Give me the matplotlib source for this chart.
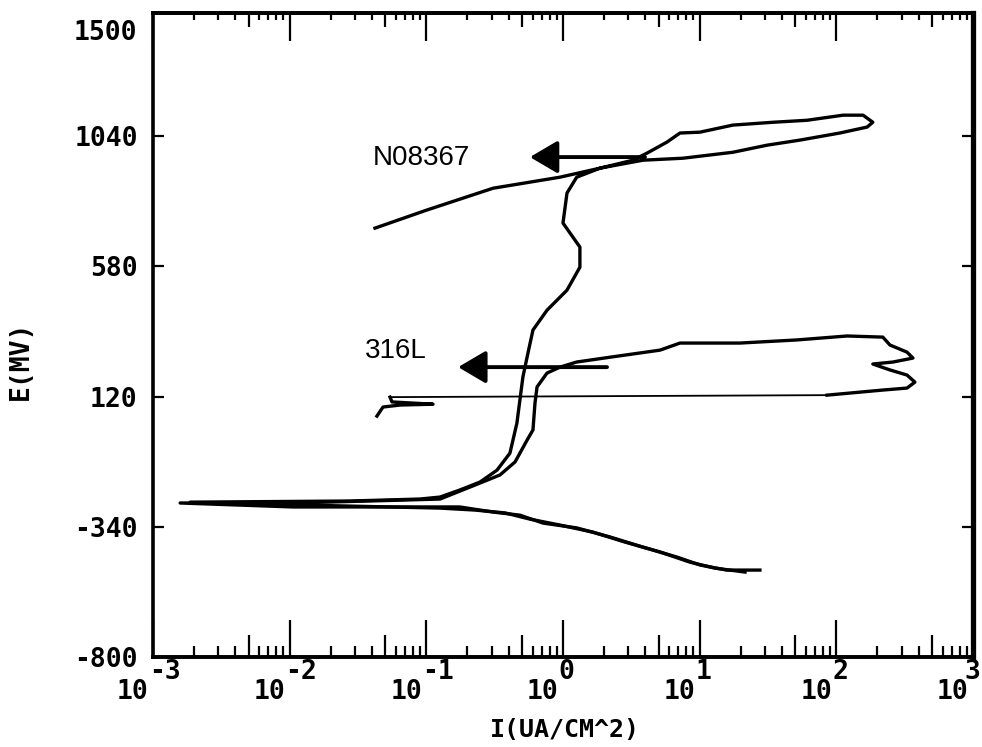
import numpy as np
import matplotlib.pyplot as plt
from matplotlib.ticker import LogLocator, NullFormatter, FixedLocator

# polarization scans, current in uA/cm^2 and potential in mV
n08367_i = [21.5, 12.9, 8.49, 5.13, 2.84, 1.66, 0.951, 0.573, 0.377, 0.227, 0.126, 0.0119, 0.00187, 0.0276, 0.090, 0.126,
            0.176, 0.247, 0.329, 0.409, 0.460, 0.484, 0.509, 0.546, 0.603, 0.764, 1.07, 1.33, 1.33, 1.00, 1.07, 1.26,
            1.87, 3.25, 4.12, 5.77, 7.18, 10.05, 17.5, 34.4, 61.0, 112, 157, 185,
            168, 106, 54.2, 31.1, 17.5, 7.55, 3.85, 1.87, 0.951, 0.308, 0.101, 0.0421]
n08367_e = [-500, -486, -465, -429, -394, -359, -334, -313, -291, -281, -274, -263, -253, -249, -242, -235,
            -210, -182, -140, -80, 26, 108, 189, 259, 355, 425, 496, 577, 648, 733, 839, 895,
            927, 955, 980, 1019, 1051, 1054, 1079, 1089, 1096, 1114, 1114, 1089,
            1072, 1051, 1026, 1008, 983, 962, 955, 927, 895, 856, 779, 715]

s316l_i = [27.6, 15.8, 10.05, 6.82, 3.85, 2.21, 1.26, 0.715, 0.484, 0.308, 0.176, 0.0758, 0.01058, 0.00158, 0.01058, 0.0641, 0.126,
           0.208, 0.346, 0.446, 0.546, 0.603, 0.624, 0.646, 0.764, 0.951, 1.26, 2.21, 5.13, 7.18, 19.7, 51.5, 120, 219,
           247, 329, 364, 260, 185, 247, 329, 376, 329, 219, 85.5,
           0.0542, 0.0561, 0.112, 0.0641, 0.0482, 0.0435]
s316l_e = [-493, -493, -475, -447, -412, -376, -344, -327, -299, -288, -270, -270, -270, -256, -256, -246, -242,
           -200, -157, -111, -34, 2, 97, 154, 203, 224, 242, 259, 284, 309, 309, 320, 334, 330,
           302, 277, 256, 242, 235, 214, 196, 171, 150, 143, 125,
           118, 101, 93, 90, 83, 51]
jump = 44  # reverse scan jumps back here (thin line)

yticks = [-800, -340, 120, 580, 1040]
decades = [-3, -2, -1, 0, 1, 2, 3]

mono = {'family': 'DejaVu Sans Mono', 'weight': 'bold', 'size': 19}

fig = plt.figure(figsize=(9.82, 7.47), dpi=100)
ax = fig.add_axes([0.1558, 0.1205, 0.835, 0.8621])

ax.plot(n08367_i, n08367_e, color='black', lw=2.4, solid_joinstyle='round')
ax.plot(s316l_i[:jump + 1], s316l_e[:jump + 1], color='black', lw=2.4, solid_joinstyle='round')
ax.plot(s316l_i[jump:jump + 2], s316l_e[jump:jump + 2], color='black', lw=1.3)
ax.plot(s316l_i[jump + 1:], s316l_e[jump + 1:], color='black', lw=2.4, solid_joinstyle='round')

# labels with arrows
arrow = dict(arrowstyle='-|>,head_length=0.85,head_width=0.5', color='black', lw=2.8,
             mutation_scale=20, shrinkA=0, shrinkB=0)
ax.annotate('', xy=(0.573, 966), xytext=(3.98, 966), arrowprops=arrow)
ax.annotate('', xy=(0.171, 224), xytext=(2.10, 224), arrowprops=arrow)
ax.text(0.0407, 962, 'N08367', fontsize=20, family='Liberation Sans', ha='left', va='center')
ax.text(0.0356, 281, '316L', fontsize=20, family='Liberation Sans', ha='left', va='center')

ax.set_xscale('log')
ax.set_xlim(1e-3, 1e3)
ax.set_ylim(-800, 1475)

# x ticks: long majors, medium at 5, short others
ax.xaxis.set_major_locator(LogLocator(base=10, numticks=20))
ax.xaxis.set_minor_locator(LogLocator(base=10, subs=(2, 3, 4, 6, 7, 8, 9), numticks=20))
ax.xaxis.set_major_formatter(NullFormatter())
ax.xaxis.set_minor_formatter(NullFormatter())
ax.tick_params(axis='x', which='major', direction='in', length=27, width=1.6, top=False)
ax.tick_params(axis='x', which='minor', direction='in', length=8, width=1.6, top=False)

mid = ax.secondary_xaxis('bottom')
mid.xaxis.set_major_locator(LogLocator(base=10, subs=(5,), numticks=20))
mid.xaxis.set_minor_locator(FixedLocator([]))
mid.xaxis.set_major_formatter(NullFormatter())
mid.tick_params(axis='x', which='major', direction='in', length=16, width=1.6)

top = ax.secondary_xaxis('top')
top.xaxis.set_major_locator(LogLocator(base=10, numticks=20))
top.xaxis.set_minor_locator(LogLocator(base=10, subs=(2, 3, 4, 6, 7, 8, 9), numticks=20))
top.xaxis.set_major_formatter(NullFormatter())
top.xaxis.set_minor_formatter(NullFormatter())
top.tick_params(axis='x', which='major', direction='in', length=20, width=1.6)
top.tick_params(axis='x', which='minor', direction='in', length=5, width=1.6)

top5 = ax.secondary_xaxis('top')
top5.xaxis.set_major_locator(LogLocator(base=10, subs=(5,), numticks=20))
top5.xaxis.set_minor_locator(FixedLocator([]))
top5.xaxis.set_major_formatter(NullFormatter())
top5.tick_params(axis='x', which='major', direction='in', length=10, width=1.6)

for k in decades:
    ax.annotate('10', xy=(10.0 ** k, 0), xycoords=('data', 'axes fraction'),
                xytext=(-3, -25), textcoords='offset points', ha='right', va='center',
                annotation_clip=False, **mono)
    dx = -3 if k < 3 else -6  # keep the last exponent inside the figure
    ax.annotate(str(k), xy=(10.0 ** k, 0), xycoords=('data', 'axes fraction'),
                xytext=(dx, -11), textcoords='offset points', ha='left', va='center',
                annotation_clip=False, **mono)

# y ticks
ax.set_yticks(yticks)
ax.set_yticklabels([str(v) for v in yticks], **mono)
ax.tick_params(axis='y', which='major', direction='in', length=8, width=1.6,
               left=True, right=True, pad=11)
ax.text(-0.0195, 0.969, '1500', transform=ax.transAxes, ha='right', va='center', **mono)

for side in ['left', 'bottom', 'top']:
    ax.spines[side].set_linewidth(2.6)
ax.spines['right'].set_linewidth(3.8)
for sec in [mid, top, top5]:
    for sp in sec.spines.values():
        sp.set_linewidth(2.6)

ax.set_xlabel('I(UA/CM^2)', family='DejaVu Sans Mono', weight='bold', size=18)
ax.xaxis.set_label_coords(0.502, -0.094)
ax.set_ylabel('E(MV)', **mono)
ax.yaxis.set_label_coords(-0.145, 0.461)

fig.savefig('out.png', dpi=100)
